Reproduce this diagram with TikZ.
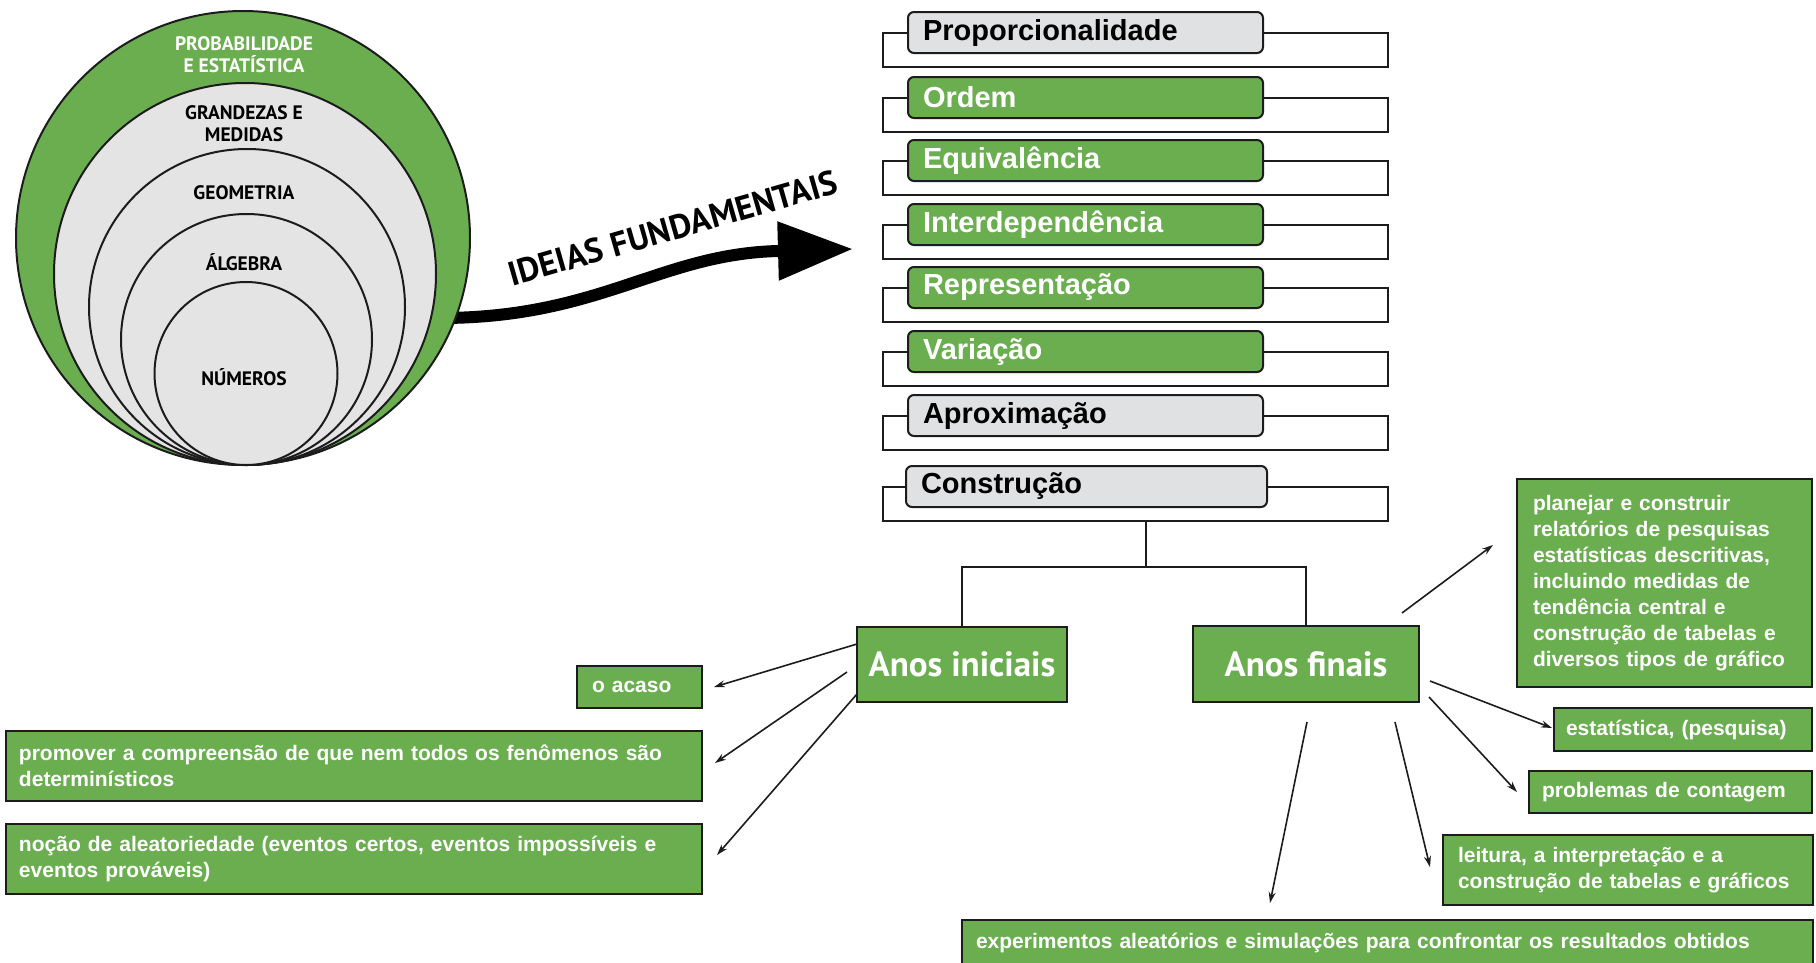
\documentclass[tikz,border=0pt]{standalone}
\usepackage{fontspec}
\setmainfont{Liberation Sans}
\newfontfamily\arialf{Liberation Sans}
\newfontfamily\myr{PT Sans}
\usetikzlibrary{arrows.meta}
\definecolor{gr}{RGB}{106,174,80}
\definecolor{lg}{RGB}{224,225,226}
\definecolor{cg}{RGB}{228,228,228}
\definecolor{ln}{RGB}{28,28,28}
\begin{document}
\begin{tikzpicture}[x=1pt,y=-1pt,
  circ/.style={circle, draw=ln, line width=2pt, inner sep=0pt, outer sep=0pt},
  clab/.style={font=\myr\bfseries\fontsize{19.5}{22}\selectfont, align=center, inner sep=0pt},
  ideabox/.style={rectangle, rounded corners=6pt, draw=ln, line width=2pt, anchor=north west, text width=325pt, inner xsep=15pt, inner ysep=0pt, outer sep=0pt, minimum height=41pt, align=left, font=\arialf\bfseries\fontsize{29}{33}\selectfont},
  gi/.style={ideabox, fill=gr, text=white},
  wi/.style={ideabox, fill=lg, text=black},
  brk/.style={draw=ln, line width=2pt},
  anos/.style={rectangle, draw=ln, line width=2pt, fill=gr, text=white, font=\myr\bfseries\fontsize{35}{40}\selectfont, anchor=north west, inner sep=0pt, outer sep=0pt},
  gbox/.style={rectangle, draw=ln, line width=2pt, fill=gr, text=white, font=\arialf\bfseries\fontsize{21}{26}\selectfont, anchor=north west, align=left, inner ysep=0pt, outer sep=0pt},
  arr/.style={draw=ln, line width=1.6pt, -{Stealth[length=11pt,width=7pt]}},
]
\useasboundingbox (0,0) rectangle (1816,962);
\fill[white] (0,0) rectangle (1816,962);

% big arrow
\coordinate (bigtip) at (853,249);
\draw[black, line width=12pt, -{Triangle[length=75pt,width=56pt]}] (440,318) .. controls (600,318) and (660,254) .. (778,251) -- (bigtip);
\node[rotate=16, font=\myr\bfseries\fontsize{34}{38}\selectfont, inner sep=0pt] (ideias) at (673,228) {IDEIAS FUNDAMENTAIS};

% circles
\node[circ, fill=gr, minimum size=454pt] (c1) at (243,238) {};
\node[circ, fill=cg, minimum size=382pt] (c2) at (245,274) {};
\node[circ, fill=cg, minimum size=316pt] (c3) at (247,307) {};
\node[circ, fill=cg, minimum size=251pt] (c4) at (246.5,339.5) {};
\node[circ, fill=cg, minimum size=183pt] (c5) at (246,373.5) {};
\node[clab, text=white] (l1) at (244,55) {PROBABILIDADE\\E ESTAT\'ISTICA};
\node[clab] (l2) at (244,124) {GRANDEZAS E\\MEDIDAS};
\node[clab] (l3) at (244,193) {GEOMETRIA};
\node[clab] (l4) at (244,262) {\'ALGEBRA};
\node[clab] (l5) at (244,377) {N\'UMEROS};

% idea boxes
\node[wi] (p1) at (908,12) {Proporcionalidade};
\node[gi] (p2) at (908,77) {Ordem};
\node[gi] (p3) at (908,140) {Equival\^encia};
\node[gi] (p4) at (908,204) {Interdepend\^encia};
\node[gi] (p5) at (908,267) {Representa\c{c}\~ao};
\node[gi] (p6) at (908,331) {Varia\c{c}\~ao};
\node[wi] (p7) at (908,395) {Aproxima\c{c}\~ao};
\node[wi, text width=331pt] (p8) at (906,466) {Constru\c{c}\~ao};
\foreach \n/\t in {p1/12, p2/77, p3/140, p4/204, p5/267, p6/331, p7/395, p8/466}{
  \draw[brk] (\n.west) -- (883,\t+20.5) -- (883,\t+55) -- (1388,\t+55) -- (1388,\t+20.5) -- (\n.east);
}

% tree
\node[anos, minimum width=210pt, minimum height=75pt] (ai) at (857,627) {Anos iniciais};
\node[anos, minimum width=226pt, minimum height=76pt] (af) at (1193,626) {Anos finais};
\coordinate (cb) at (1146,521);
\coordinate (bar) at (0,567);
\draw[brk] (cb) -- (cb |- bar);
\draw[brk] (ai.north) -- (ai.north |- bar) -- (af.north |- bar) -- (af.north);

% left boxes
\node[gbox, text width=95pt, inner xsep=15pt, minimum height=42pt] (acaso) at (577,666) {o acaso};
\node[gbox, text width=670pt, inner xsep=13pt, minimum height=70pt] (promover) at (6,731) {promover a compreens\~ao de que nem todos os fen\^omenos s\~ao\\determin\'isticos};
\node[gbox, text width=670pt, inner xsep=13pt, minimum height=70pt] (nocao) at (6,824) {no\c{c}\~ao de aleatoriedade (eventos certos, eventos imposs\'iveis e\\eventos prov\'aveis)};

% right boxes
\node[gbox, text width=263pt, inner xsep=16pt, minimum height=208pt] (planejar) at (1517,479) {planejar e construir\\relat\'orios de pesquisas\\estat\'isticas descritivas,\\incluindo medidas de\\tend\^encia central e\\constru\c{c}\~ao de tabelas e\\diversos tipos de gr\'afico};
\node[gbox, text width=234pt, inner xsep=12pt, minimum height=43pt] (estat) at (1554,708) {estat\'istica, (pesquisa)};
\node[gbox, text width=257pt, inner xsep=13pt, minimum height=42pt] (probl) at (1529,771) {problemas de contagem};
\node[gbox, text width=340pt, inner xsep=15pt, minimum height=70pt] (leitura) at (1443,835) {leitura, a interpreta\c{c}\~ao e a\\constru\c{c}\~ao de tabelas e gr\'aficos};
\node[gbox, text width=823pt, inner xsep=14pt, minimum height=46pt] (exper) at (962,920) {experimentos aleat\'orios e simula\c{c}\~oes para confrontar os resultados obtidos};

% arrows
\coordinate (s1) at (857,644); \coordinate (t1) at (714,687);
\coordinate (s2) at (847,672); \coordinate (t2) at (715,763);
\coordinate (s3) at (857,694); \coordinate (t3) at (717,855);
\coordinate (s4) at (1402,613); \coordinate (t4) at (1493,545);
\coordinate (s5) at (1430,681); \coordinate (t5) at (1552,728);
\coordinate (s6) at (1429,697); \coordinate (t6) at (1517,792);
\coordinate (s7) at (1395,722); \coordinate (t7) at (1430,867);
\coordinate (s8) at (1307,722); \coordinate (t8) at (1270,903);
\foreach \i in {1,...,8}{ \draw[arr] (s\i) -- (t\i); }
\end{tikzpicture}
\end{document}
